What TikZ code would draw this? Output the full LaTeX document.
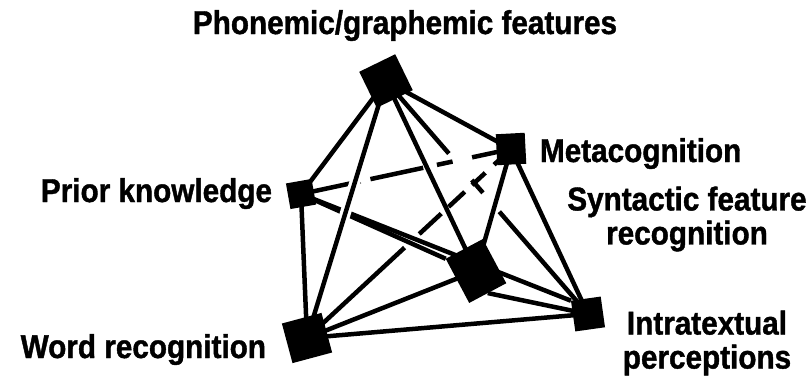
\documentclass[tikz,border=0pt]{standalone}
\usepackage{fontspec}
\newfontfamily\lblfont{Liberation Sans}[FakeStretch=0.9, FakeBold=1.2]
\usetikzlibrary{backgrounds}
\begin{document}
\begin{tikzpicture}[x=1pt,y=-1pt,
  every node/.style={inner sep=0pt, outer sep=0pt},
  blk/.style 2 args={fill=black, draw=none, minimum width=#1, minimum height=#2},
  conn/.style={line width=4.5pt, black},
  hidden/.style={line width=4.5pt, black},
  lbl/.style={font=\lblfont\bfseries\fontsize{33}{34}\selectfont, align=center},
]
\useasboundingbox (0,0) rectangle (812,378);

% component squares
\node[blk={40}{40}, rotate=26] (P) at (386,81) {};
\node[blk={29}{31}, rotate=3]  (M) at (511,149) {};
\node[blk={26}{26}, rotate=10] (K) at (301,194) {};
\node[blk={42}{50}, rotate=28] (S) at (476,271) {};
\node[blk={30}{31}, rotate=8]  (I) at (588,314) {};
\node[blk={41}{41}, rotate=15] (W) at (307,338) {};

% connectors
\begin{scope}[on background layer]
  % hidden (dashed) connectors
  \draw[hidden, dash pattern=on 61pt off 10pt on 54pt off 14pt on 16pt off 20pt on 80pt] (K.center) -- (M.center);
  \draw[hidden, dash pattern=on 133pt off 20pt on 30pt off 10pt on 22pt off 10pt on 18pt off 12pt on 80pt] (W.center) -- (M.center);
  \draw[conn, dash pattern=on 96pt off 35pt on 17pt off 25pt on 400pt] (P.center) -- (I.center);
  % connectors behind
  \draw[conn] (K.center) -- (S.north west);
  \draw[conn] (K.center) -- (I.north west);
  % other connectors
  \draw[conn] (P.center) -- (K.center);
  \draw[conn] (P.center) -- (S.center);
  \draw[conn] (P.center) -- (M.center);
  \draw[conn] (K.center) -- (W.center);
  \draw[conn] (M.center) -- (S.center);
  \draw[conn] (M.center) -- (I.center);
  \draw[conn] (W.center) -- (S.center);
  \draw[conn] (W.center) -- (I.center);
  \draw[conn] (S.south) -- (I.center);
  \draw[conn, preaction={draw=white, line width=11pt, shorten <=70pt, shorten >=70pt}] (P.center) -- (W.center);
\end{scope}

% labels
\node[lbl, anchor=base] (tP) at (405,34) {Phonemic/graphemic features};
\node[lbl, anchor=base east] (tK) at (272,202) {Prior knowledge};
\node[lbl, anchor=base west] (tM) at (540,162) {Metacognition};
\node[lbl] (tS) at (687,219) {Syntactic feature\\recognition};
\node[lbl] (tI) at (707,343) {Intratextual\\perceptions};
\node[lbl, anchor=base east] (tW) at (266,358) {Word recognition};
\end{tikzpicture}
\end{document}
